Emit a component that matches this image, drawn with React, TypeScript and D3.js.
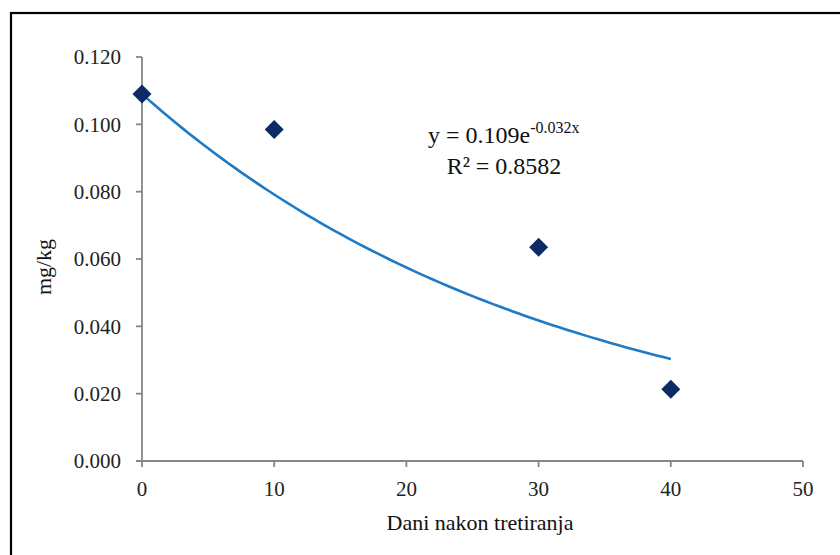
import React from "react";
import * as d3 from "d3";

// Residue measurements (mg/kg) by days after treatment
const days = [0, 10, 30, 40];
const residues = [0.109, 0.0985, 0.0635, 0.0213];

// Exponential trendline parameters shown in the label
const trendA = 0.109;
const trendK = -0.032;
const trendR2 = "0.8582";

const xTicks = [0, 10, 20, 30, 40, 50];
const yTicks = [0, 0.02, 0.04, 0.06, 0.08, 0.1, 0.12];

const W = 840;
const H = 555;
const FONT = "'Liberation Serif', 'Times New Roman', Times, serif";
const AXIS = "#868686";

export default function App() {
  const x = d3.scaleLinear().domain([0, 50]).range([142, 803]);
  const y = d3.scaleLinear().domain([0, 0.12]).range([461, 57]);

  const trendX = d3.range(0, 40.001, 0.5);
  const line = d3
    .line<number>()
    .x((d) => x(d))
    .y((d) => y(trendA * Math.exp(trendK * d)))
    .curve(d3.curveMonotoneX);

  const diamond = (cx: number, cy: number, r: number) =>
    `M${cx},${cy - r}L${cx + r},${cy}L${cx},${cy + r}L${cx - r},${cy}Z`;

  return (
    <svg
      width={W}
      height={H}
      style={{ position: "absolute", left: 0, top: 0, background: "#fff", fontFamily: FONT }}
    >
      <rect x={0} y={0} width={W} height={H} fill="#fff" />
      {/* outer frame */}
      <rect x={11} y={13} width={900} height={700} fill="none" stroke="#000" strokeWidth={2.2} />

      {/* y axis */}
      <line x1={x(0)} x2={x(0)} y1={y(0)} y2={y(0.12)} stroke={AXIS} strokeWidth={1.8} />
      {yTicks.map((t) => (
        <g key={`y${t}`}>
          <line x1={x(0) - 6} x2={x(0)} y1={y(t)} y2={y(t)} stroke={AXIS} strokeWidth={1.8} />
          <text
            x={121}
            y={y(t)}
            dy="0.35em"
            textAnchor="end"
            fontSize={21}
            fill="#222"
          >
            {t.toFixed(3)}
          </text>
        </g>
      ))}

      {/* x axis */}
      <line x1={x(0) - 6} x2={x(50)} y1={y(0)} y2={y(0)} stroke={AXIS} strokeWidth={1.8} />
      {xTicks.map((t) => (
        <g key={`x${t}`}>
          <line x1={x(t)} x2={x(t)} y1={y(0)} y2={y(0) + 6} stroke={AXIS} strokeWidth={1.8} />
          <text x={x(t)} y={496} textAnchor="middle" fontSize={21} fill="#222">
            {t}
          </text>
        </g>
      ))}

      {/* axis titles */}
      <text
        transform={`translate(51,267) rotate(-90)`}
        textAnchor="middle"
        fontSize={22}
        fill="#111"
      >
        mg/kg
      </text>
      <text x={480} y={530} textAnchor="middle" fontSize={22} fill="#111">
        Dani nakon tretiranja
      </text>

      {/* trendline */}
      <path d={line(trendX) ?? ""} fill="none" stroke="#1f7ac6" strokeWidth={2.6} />

      {/* data points */}
      {days.map((d, i) => (
        <path key={d} d={diamond(x(d), y(residues[i]), 9.5)} fill="#0b2a66" />
      ))}

      {/* equation label */}
      <text x={428} y={143} fontSize={24} fill="#111">
        {`y = ${trendA}e`}
        <tspan fontSize={16} dy={-10}>{`${trendK}x`}</tspan>
      </text>
      <text x={504} y={174} textAnchor="middle" fontSize={24} fill="#111">
        {`R² = ${trendR2}`}
      </text>
    </svg>
  );
}
